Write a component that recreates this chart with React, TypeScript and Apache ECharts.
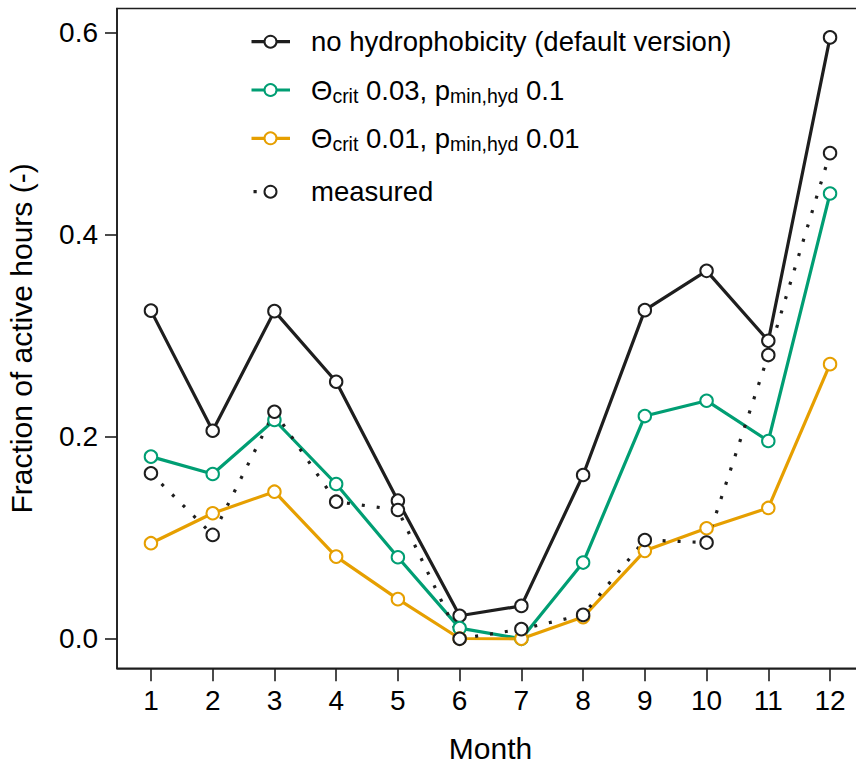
import React, { useEffect, useRef } from "react";
import * as echarts from "echarts";

const months = [1, 2, 3, 4, 5, 6, 7, 8, 9, 10, 11, 12];
const noHydro = [0.325, 0.206, 0.3245, 0.2546, 0.1368, 0.0228, 0.0326, 0.1622, 0.3255, 0.3644, 0.2951, 0.5956];
const crit003 = [0.1804, 0.1632, 0.2167, 0.1533, 0.0808, 0.0106, 0.0, 0.0755, 0.2206, 0.2358, 0.1959, 0.441];
const crit001 = [0.0947, 0.1243, 0.1457, 0.0814, 0.0393, 0.0003, 0.0, 0.0215, 0.0871, 0.1095, 0.1296, 0.272];
const measured = [0.1639, 0.1029, 0.2249, 0.1358, 0.1276, 0.0, 0.0096, 0.0237, 0.0979, 0.0953, 0.281, 0.481];
const yTicks = [0, 0.2, 0.4, 0.6];
const xTicks = months;

const FONT = "'Liberation Sans', Arial, sans-serif";
const BLACK = "#1e1e1e";
const GREEN = "#009E73";
const ORANGE = "#E69F00";

const pairs = (vals: number[]) => months.map((m, i) => [m, vals[i]]);

export default function App() {
  const ref = useRef<HTMLDivElement>(null);
  useEffect(() => {
    if (!ref.current) return;
    const chart = echarts.init(ref.current, null, { renderer: "svg" });
    const mkSeries = (name: string, vals: number[], color: string, dotted = false) => ({
      type: "line",
      name,
      data: pairs(vals),
      symbol: "circle",
      symbolSize: 12.5,
      showSymbol: true,
      lineStyle: dotted
        ? { color, width: 3.2, type: [3, 12], cap: "butt" }
        : { color, width: 3.2 },
      itemStyle: { color: "#ffffff", borderColor: color, borderWidth: 2 },
      emphasis: { disabled: true },
      z: 2,
    });
    const legendRow = (y: number, color: string, dotted: boolean) => {
      const els: any[] = [];
      if (dotted) {
        els.push({ type: "rect", shape: { x: 253.5, y: y - 1.6, width: 3.2, height: 3.2 }, style: { fill: BLACK } });
      } else {
        els.push({ type: "line", shape: { x1: 251.5, y1: y, x2: 290, y2: y }, style: { stroke: color, lineWidth: 3.2 } });
      }
      els.push({ type: "circle", shape: { cx: 270.5, cy: y, r: 6 }, style: { fill: "#fff", stroke: color, lineWidth: 2 } });
      return els;
    };
    const rich = {
      a: { fontSize: 27.5, fontFamily: FONT, lineHeight: 32, fill: "#000" },
      s: { fontSize: 19.5, fontFamily: FONT, lineHeight: 19, verticalAlign: "bottom", fill: "#000" },
    };
    chart.setOption({
      animation: false,
      backgroundColor: "#ffffff",
      grid: {
        left: 117, top: 8.5, width: 747, height: 659.8,
        outerBoundsMode: "none", containLabel: false,
        show: true, borderColor: BLACK, borderWidth: 1.6, backgroundColor: "transparent",
      },
      xAxis: {
        type: "value",
        min: 0.45,
        max: 12.55,
        name: "Month",
        nameLocation: "middle",
        nameGap: 65,
        nameTextStyle: { fontSize: 30, fontFamily: FONT, color: "#000" },
        axisLine: { show: true, onZero: false, lineStyle: { color: BLACK, width: 1.6 } },
        axisTick: { show: true, inside: false, length: 13, customValues: xTicks, lineStyle: { color: BLACK, width: 1.6 } },
        axisLabel: { show: true, customValues: xTicks, margin: 18, fontSize: 28, fontFamily: FONT, color: "#000" },
        splitLine: { show: false },
      },
      yAxis: {
        type: "value",
        min: -0.0292,
        max: 0.6242,
        name: "Fraction of active hours (-)",
        nameLocation: "middle",
        nameGap: 81,
        nameTextStyle: { fontSize: 30, fontFamily: FONT, color: "#000" },
        axisLine: { show: true, onZero: false, lineStyle: { color: BLACK, width: 1.6 } },
        axisTick: { show: true, inside: false, length: 12, customValues: yTicks, lineStyle: { color: BLACK, width: 1.6 } },
        axisLabel: { show: true, customValues: yTicks, margin: 19, fontSize: 28, fontFamily: FONT, color: "#000", formatter: (v: number) => v.toFixed(1) },
        splitLine: { show: false },
      },
      series: [
        mkSeries("no hydrophobicity (default version)", noHydro, BLACK),
        mkSeries("Θcrit 0.03, pmin,hyd 0.1", crit003, GREEN),
        mkSeries("Θcrit 0.01, pmin,hyd 0.01", crit001, ORANGE),
        mkSeries("measured", measured, BLACK, true),
      ],
      graphic: [
        ...legendRow(41.7, BLACK, false),
        ...legendRow(90, GREEN, false),
        ...legendRow(138.3, ORANGE, false),
        ...legendRow(191.7, BLACK, true),
        { type: "text", x: 311, y: 41.7, style: { text: "no hydrophobicity (default version)", fontSize: 27.5, fontFamily: FONT, fill: "#000", verticalAlign: "middle" } },
        { type: "text", x: 311, y: 90, style: { text: "{a|Θ}{s|crit}{a| 0.03, p}{s|min,hyd}{a| 0.1}", rich, verticalAlign: "middle" } },
        { type: "text", x: 311, y: 138.3, style: { text: "{a|Θ}{s|crit}{a| 0.01, p}{s|min,hyd}{a| 0.01}", rich, verticalAlign: "middle" } },
        { type: "text", x: 311, y: 191.7, style: { text: "measured", fontSize: 27.5, fontFamily: FONT, fill: "#000", verticalAlign: "middle" } },
      ],
    });
    return () => chart.dispose();
  }, []);
  return (
    <div
      ref={ref}
      style={{ position: "fixed", left: 0, top: 0, width: 856, height: 764, background: "#fff" }}
    />
  );
}
